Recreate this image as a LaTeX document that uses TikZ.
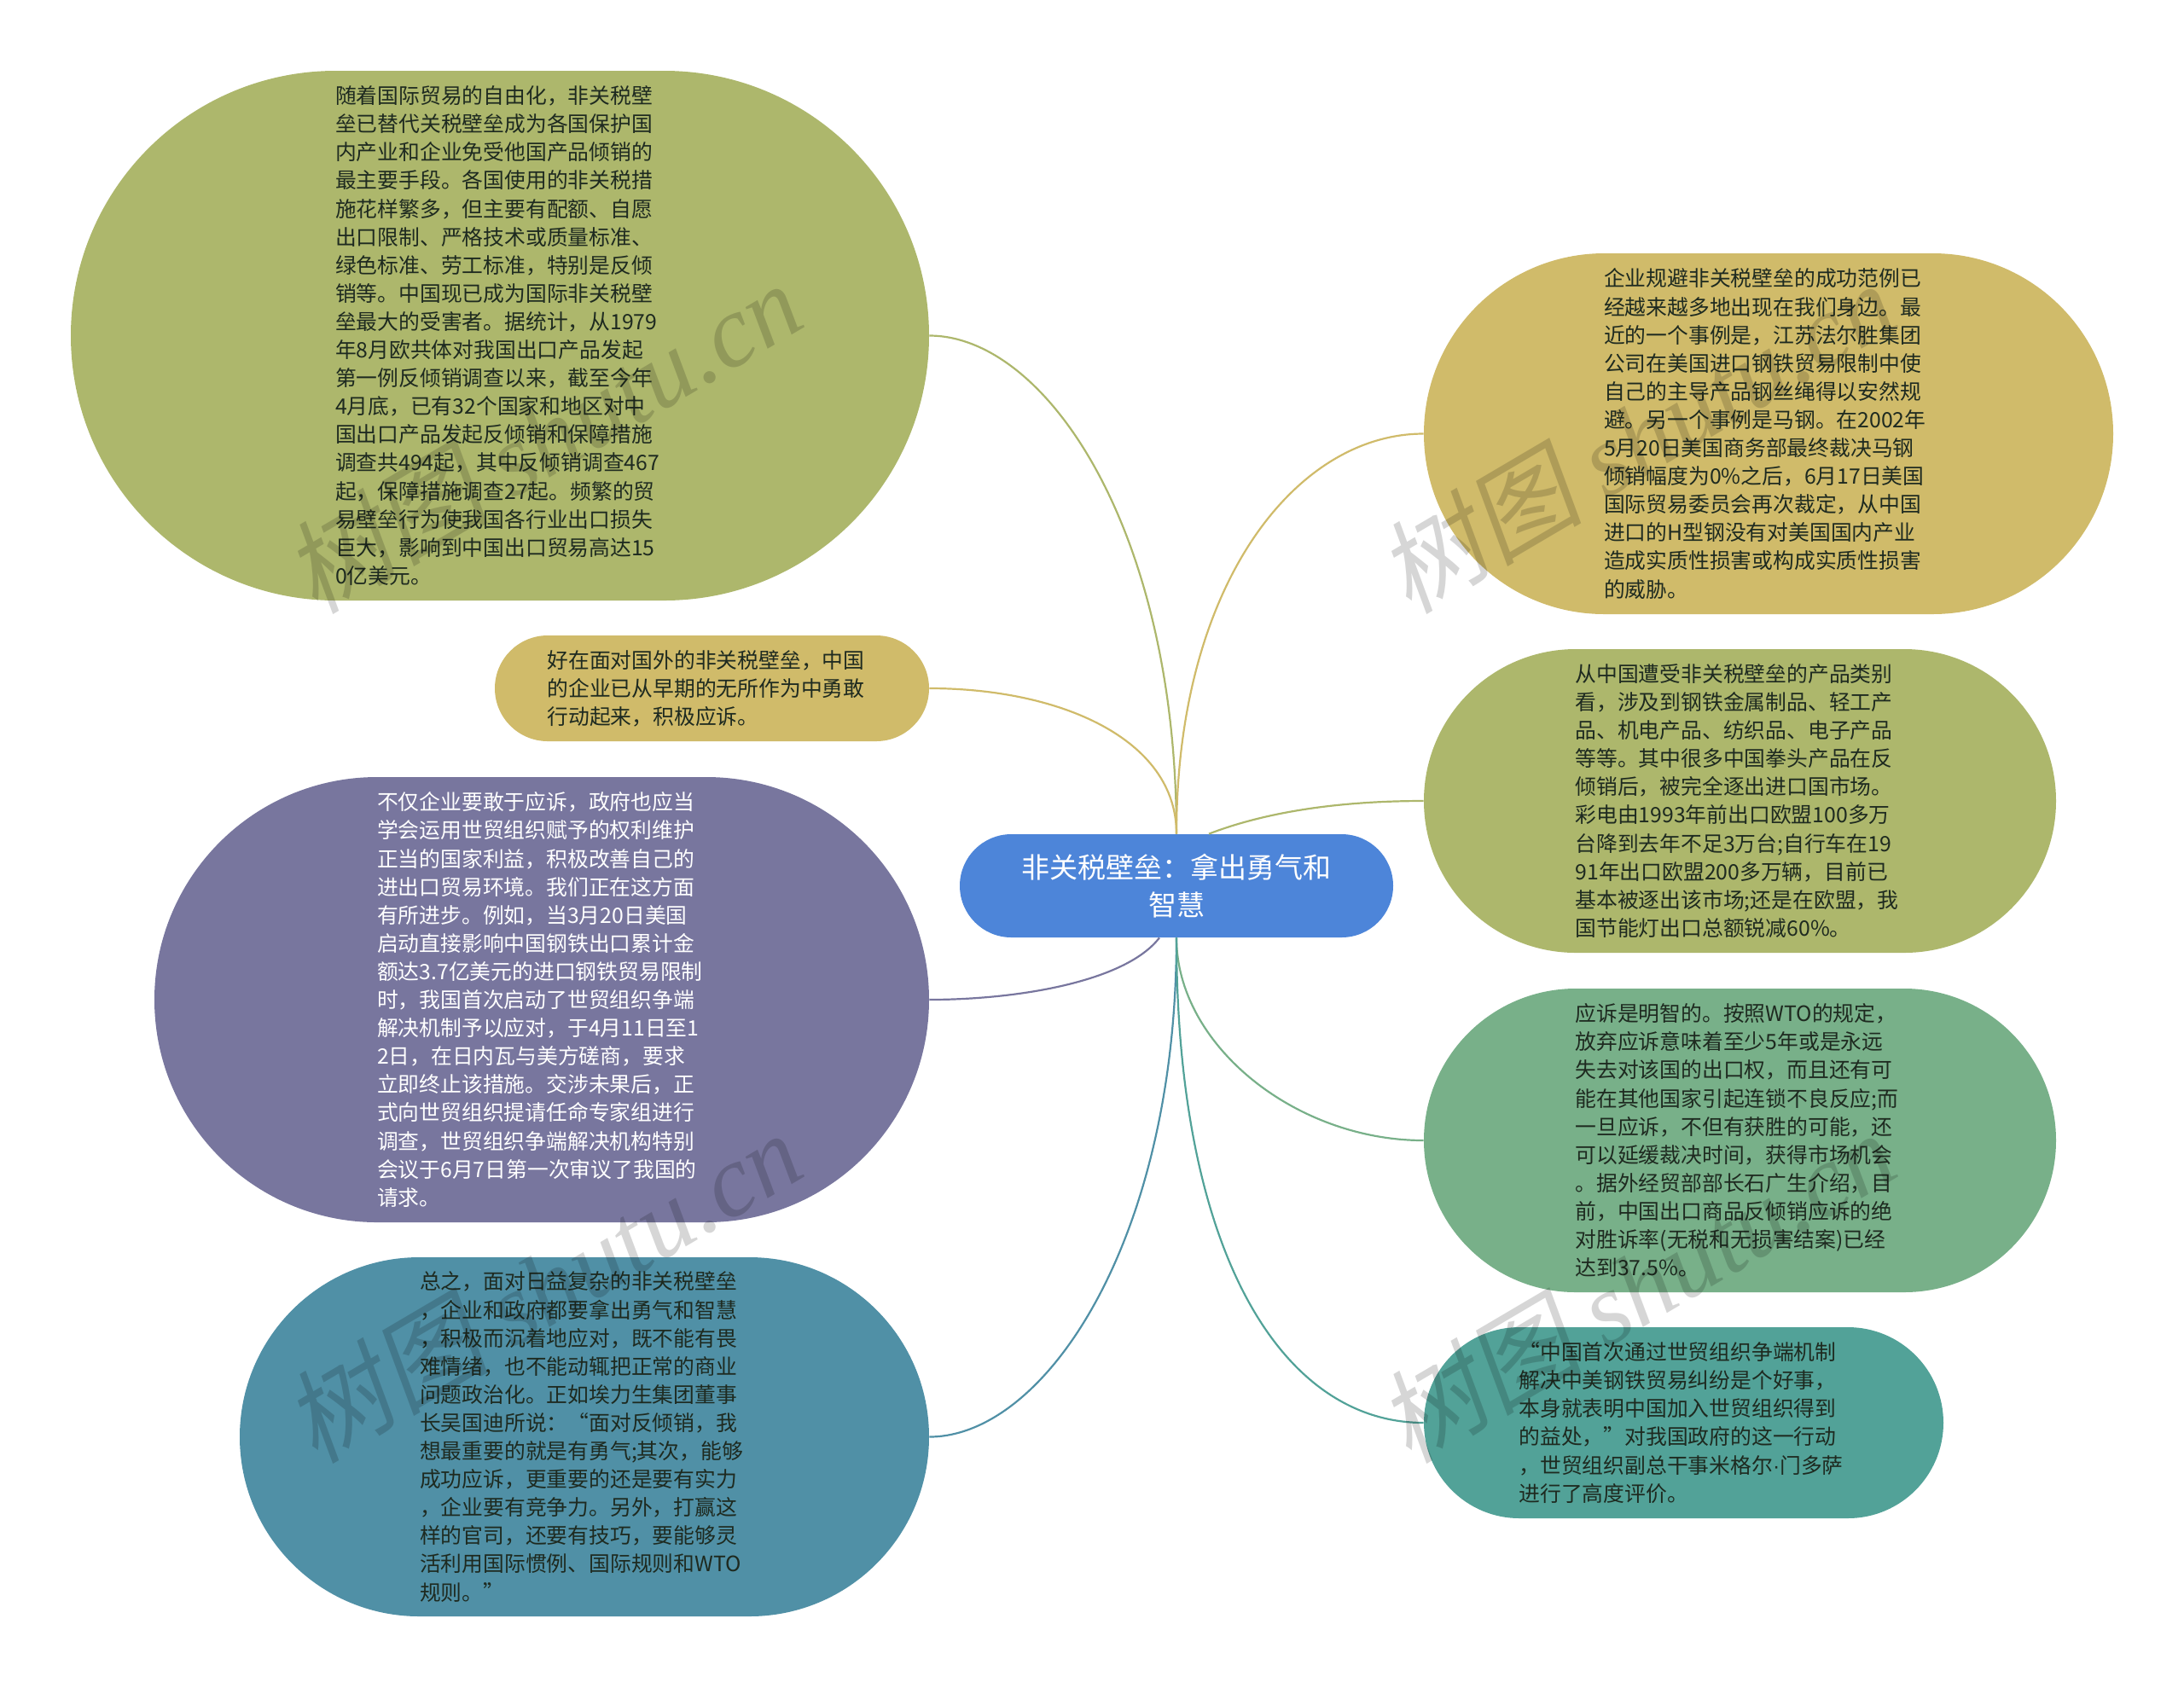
\documentclass[tikz,border=0pt]{standalone}
\usepackage{fontspec}
\usepackage{xcolor}
\setmainfont{Noto Sans CJK SC}
\newfontfamily\stampcjk[FakeSlant=0.18]{Noto Sans CJK SC}
\newfontfamily\stamplatin{Liberation Serif Italic}
\newfontfamily\dotfont{Liberation Sans}
\usetikzlibrary{shapes.misc}
\definecolor{olivec}{HTML}{ADB76C}
\definecolor{goldc}{HTML}{D0BB6A}
\definecolor{purplec}{HTML}{78769E}
\definecolor{bluec}{HTML}{5090A6}
\definecolor{rootc}{HTML}{4D85D9}
\definecolor{greenc}{HTML}{78B089}
\definecolor{tealc}{HTML}{52A298}
\definecolor{darktext}{HTML}{1E2A20}
\newcommand{\leaffont}{\fontsize{12.4pt}{16.55pt}\selectfont}
\newcommand{\rootfont}{\fontsize{16.5pt}{22pt}\selectfont}
\newcommand{\stampfont}{\fontsize{60pt}{60pt}\selectfont}
\newcommand{\stamptext}{{\stampcjk 树图} {\stamplatin shutu.cn}}
\newcommand{\cm}{^^^^ff0c}
\newcommand{\cl}{^^^^ff1a}
\lineskiplimit=-20pt

\begin{document}
\begin{tikzpicture}[node distance=100pt]
      \useasboundingbox (0pt,0pt) rectangle (1280pt,-989pt);
      \tikzset{leaf/.style={rounded rectangle,inner sep=0pt,text width=193pt,align=left,text=darktext,font=\leaffont}}
      \tikzset{rootbox/.style={leaf,fill=rootc,text=white,align=center,font=\rootfont}}
      \tikzset{link/.style={line width=1.1pt}}
      \tikzset{stamp/.style={rotate=30.5,text=black,text opacity=0.16,inner sep=0pt,font=\stampfont}}

      \node[rootbox,minimum width=254pt,minimum height=60.5pt] (root) at (689.5pt,-519.25pt) {非关税壁垒\cl{}拿出勇气和\\智慧};

      \node[leaf,fill=olivec,minimum width=503pt,minimum height=310.5pt] (trend) [left of=root,xshift=-296.5pt,yshift=322.5pt] {随着国际贸易的自由化\cm{}非关税壁\\垒已替代关税壁垒成为各国保护国\\内产业和企业免受他国产品倾销的\\最主要手段。各国使用的非关税措\\施花样繁多\cm{}但主要有配额、自愿\\出口限制、严格技术或质量标准、\\绿色标准、劳工标准\cm{}特别是反倾\\销等。中国现已成为国际非关税壁\\垒最大的受害者。据统计\cm{}从1979\\年8月欧共体对我国出口产品发起\\第一例反倾销调查以来\cm{}截至今年\\4月底\cm{}已有32个国家和地区对中\\国出口产品发起反倾销和保障措施\\调查共494起\cm{}其中反倾销调查467\\起\cm{}保障措施调查27起。频繁的贸\\易壁垒行为使我国各行业出口损失\\巨大\cm{}影响到中国出口贸易高达15\\0亿美元。};
      \node[leaf,fill=goldc,minimum width=254.5pt,minimum height=62pt] (firms) [left of=root,xshift=-172.25pt,yshift=115.75pt] {好在面对国外的非关税壁垒\cm{}中国\\的企业已从早期的无所作为中勇敢\\行动起来\cm{}积极应诉。};
      \node[leaf,fill=purplec,text=white,minimum width=454pt,minimum height=261pt] (govt) [left of=root,xshift=-272pt,yshift=-66.75pt] {不仅企业要敢于应诉\cm{}政府也应当\\学会运用世贸组织赋予的权利维护\\正当的国家利益\cm{}积极改善自己的\\进出口贸易环境。我们正在这方面\\有所进步。例如\cm{}当3月20日美国\\启动直接影响中国钢铁出口累计金\\额达3.7亿美元的进口钢铁贸易限制\\时\cm{}我国首次启动了世贸组织争端\\解决机制予以应对\cm{}于4月11日至1\\2日\cm{}在日内瓦与美方磋商\cm{}要求\\立即终止该措施。交涉未果后\cm{}正\\式向世贸组织提请任命专家组进行\\调查\cm{}世贸组织争端解决机构特别\\会议于6月7日第一次审议了我国的\\请求。};
      \node[leaf,fill=bluec,minimum width=404pt,minimum height=210.5pt] (summary) [left of=root,xshift=-247pt,yshift=-323pt] {总之\cm{}面对日益复杂的非关税壁垒\\\cm{}企业和政府都要拿出勇气和智慧\\\cm{}积极而沉着地应对\cm{}既不能有畏\\难情绪\cm{}也不能动辄把正常的商业\\问题政治化。正如埃力生集团董事\\长吴国迪所说\cl{}“面对反倾销\cm{}我\\想最重要的就是有勇气;其次\cm{}能够\\成功应诉\cm{}更重要的还是要有实力\\\cm{}企业要有竞争力。另外\cm{}打赢这\\样的官司\cm{}还要有技巧\cm{}要能够灵\\活利用国际惯例、国际规则和WTO\\规则。”};

      \node[leaf,fill=goldc,minimum width=404pt,minimum height=211.5pt] (cases) [right of=root,xshift=247pt,yshift=265pt] {企业规避非关税壁垒的成功范例已\\经越来越多地出现在我们身边。最\\近的一个事例是\cm{}江苏法尔胜集团\\公司在美国进口钢铁贸易限制中使\\自己的主导产品钢丝绳得以安然规\\避。另一个事例是马钢。在2002年\\5月20日美国商务部最终裁决马钢\\倾销幅度为0\%之后\cm{}6月17日美国\\国际贸易委员会再次裁定\cm{}从中国\\进口的H型钢没有对美国国内产业\\造成实质性损害或构成实质性损害\\的威胁。};
      \node[leaf,fill=olivec,minimum width=370.5pt,minimum height=178pt] (goods) [right of=root,xshift=230.25pt,yshift=49.75pt] {从中国遭受非关税壁垒的产品类别\\看\cm{}涉及到钢铁金属制品、轻工产\\品、机电产品、纺织品、电子产品\\等等。其中很多中国拳头产品在反\\倾销后\cm{}被完全逐出进口国市场。\\彩电由1993年前出口欧盟100多万\\台降到去年不足3万台;自行车在19\\91年出口欧盟200多万辆\cm{}目前已\\基本被逐出该市场;还是在欧盟\cm{}我\\国节能灯出口总额锐减60\%。};
      \node[leaf,fill=greenc,minimum width=370.5pt,minimum height=178pt] (appeal) [right of=root,xshift=230.25pt,yshift=-149.25pt] {应诉是明智的。按照WTO的规定\cm{}\\放弃应诉意味着至少5年或是永远\\失去对该国的出口权\cm{}而且还有可\\能在其他国家引起连锁不良反应;而\\一旦应诉\cm{}不但有获胜的可能\cm{}还\\可以延缓裁决时间\cm{}获得市场机会\\。据外经贸部部长石广生介绍\cm{}目\\前\cm{}中国出口商品反倾销应诉的绝\\对胜诉率(无税和无损害结案)已经\\达到37.5\%。};
      \node[leaf,fill=tealc,minimum width=304.5pt,minimum height=112pt] (praise) [right of=root,xshift=197.25pt,yshift=-314.75pt] {“中国首次通过世贸组织争端机制\\解决中美钢铁贸易纠纷是个好事\cm{}\\本身就表明中国加入世贸组织得到\\的益处\cm{}”对我国政府的这一行动\\\cm{}世贸组织副总干事米格尔{\dotfont ·}门多萨\\进行了高度评价。};

      \draw[link,olivec] (root.north) .. controls ([yshift=179pt] root.north) and ([xshift=68pt] trend.east) .. (trend.east);
      \draw[link,goldc] (root.north) .. controls ([yshift=56pt] root.north) and ([xshift=76pt] firms.east) .. (firms.east);
      \draw[link,purplec] ([xshift=-10pt] root.south) .. controls ([xshift=-30pt,yshift=-26pt] root.south) and ([xshift=51pt] govt.east) .. (govt.east);
      \draw[link,bluec] (root.south) .. controls ([yshift=-177pt] root.south) and ([xshift=68pt] summary.east) .. (summary.east);

      \draw[link,goldc] (root.north) .. controls ([yshift=146pt] root.north) and ([xshift=-75pt] cases.west) .. (cases.west);
      \draw[link,olivec] ([xshift=19pt] root.north) .. controls ([xshift=45pt,yshift=10pt] root.north) and ([xshift=-60pt] goods.west) .. (goods.west);
      \draw[link,greenc] (root.south) .. controls ([yshift=-63pt] root.south) and ([xshift=-75pt] appeal.west) .. (appeal.west);
      \draw[link,tealc] (root.south) .. controls ([yshift=-185pt] root.south) and ([xshift=-83pt] praise.west) .. (praise.west);

      \node[stamp] (stamp1) at (318pt,-256pt) {\stamptext};
      \node[stamp] (stamp2) at (959pt,-256pt) {\stamptext};
      \node[stamp] (stamp3) at (318pt,-754pt) {\stamptext};
      \node[stamp] (stamp4) at (959pt,-754pt) {\stamptext};
\end{tikzpicture}
\end{document}
